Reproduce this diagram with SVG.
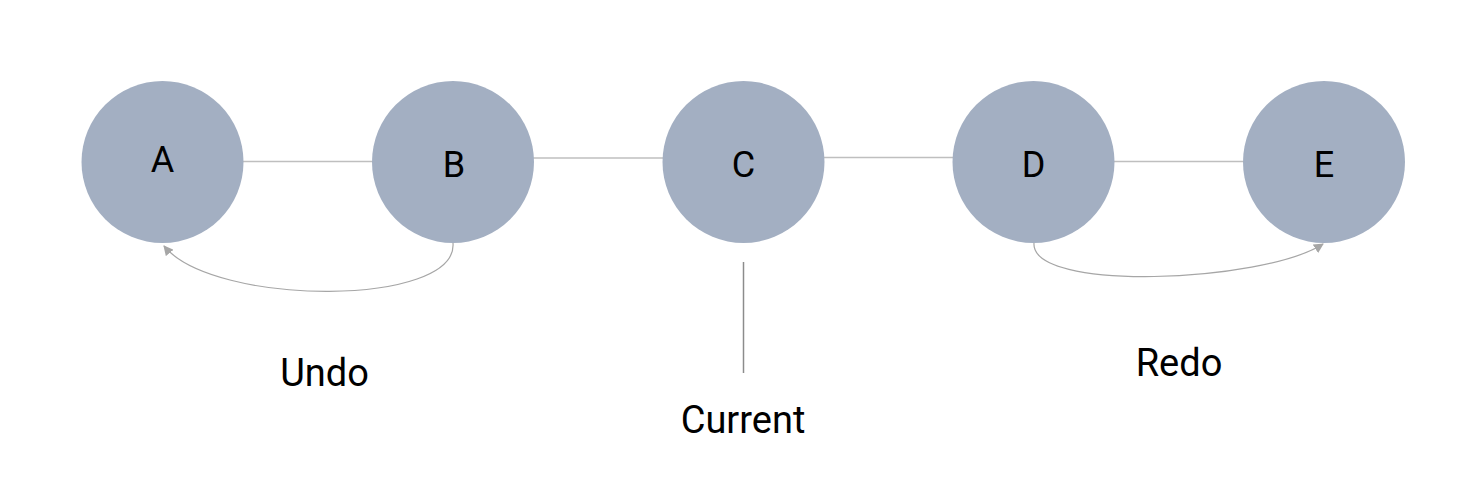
<svg xmlns="http://www.w3.org/2000/svg" width="1477" height="484" viewBox="0 0 1477 484">
<defs>
<style>
.node{fill:#a3afc2}
.lbl{font-family:Roboto,"Noto Sans",sans-serif;font-size:36px;fill:#000;text-anchor:middle}
.cap{font-family:Roboto,"Noto Sans",sans-serif;font-size:38px;fill:#000;text-anchor:middle}
.link{stroke:#bfbfbf;stroke-width:1.3;fill:none}
.arc{stroke:#a6a6a6;stroke-width:1.2;fill:none}
</style>
<marker id="ah" viewBox="0 0 10 10" refX="9" refY="5" markerWidth="10" markerHeight="10" markerUnits="userSpaceOnUse" orient="auto">
<path d="M0,0 L10,5 L0,10 z" fill="#a6a6a6"/>
</marker>
</defs>
<rect width="1477" height="484" fill="#fff"/>
<g id="connectors">
<line class="link" x1="243" y1="161.5" x2="373" y2="161.5"/>
<line class="link" x1="533" y1="158" x2="663" y2="158" stroke="#b0b0b0"/>
<line class="link" x1="823" y1="157.5" x2="954" y2="157.5"/>
<line class="link" x1="1114" y1="161.5" x2="1244" y2="161.5"/>
<path class="arc" d="M453,243 C458,307 214,307 164,246" marker-end="url(#ah)"/>
<path class="arc" d="M1034,243 C1030,292 1262,283 1323,244" marker-end="url(#ah)"/>
<line x1="743.5" y1="262" x2="743.5" y2="373" stroke="#8c8c8c" stroke-width="1.5"/>
</g>
<g id="node-A"><circle class="node" cx="162.5" cy="162" r="81"/><text class="lbl" x="162.5" y="172">A</text></g>
<g id="node-B"><circle class="node" cx="453" cy="162" r="81"/><text class="lbl" x="454" y="177">B</text></g>
<g id="node-C"><circle class="node" cx="743.5" cy="162" r="81"/><text class="lbl" x="743.5" y="176.5">C</text></g>
<g id="node-D"><circle class="node" cx="1033.5" cy="162" r="81"/><text class="lbl" x="1033.5" y="177">D</text></g>
<g id="node-E"><circle class="node" cx="1324" cy="162" r="81"/><text class="lbl" x="1324" y="177">E</text></g>
<g id="label-undo"><text class="cap" x="324.5" y="385.5">Undo</text></g>
<g id="label-redo"><text class="cap" x="1179" y="375.5">Redo</text></g>
<g id="label-current"><text class="cap" x="743" y="433">Current</text></g>
</svg>
